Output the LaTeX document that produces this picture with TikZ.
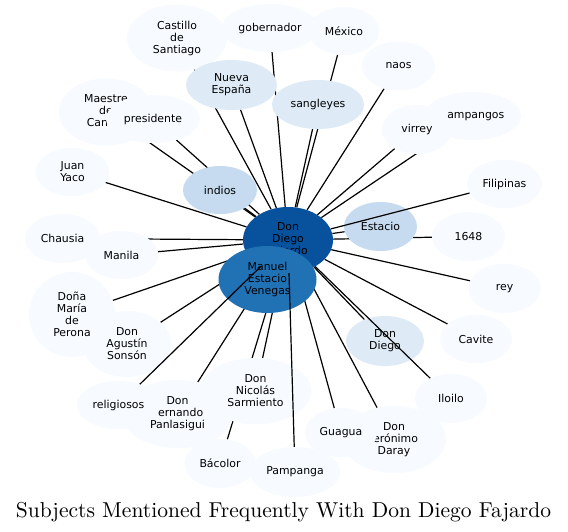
\documentclass[tikz,border=0pt]{standalone}
\usepackage{fontspec}
\usepackage{graphicx}
\newfontfamily\labfont{DejaVu Sans}
\usetikzlibrary{shapes.geometric}
\pgfdeclarelayer{bg}
\pgfsetlayers{bg,main}
\definecolor{bzero}{HTML}{F7FBFF}
\definecolor{bone}{HTML}{DEEBF7}
\definecolor{btwo}{HTML}{C6DBEF}
\definecolor{bthree}{HTML}{2171B5}
\definecolor{bfour}{HTML}{08519C}
\tikzset{
  nd/.style={ellipse, inner sep=0pt, draw=none, align=center, text=black,
    font=\labfont\fontsize{10.9}{12}\selectfont},
  lt/.style={nd, fill=bzero},
  lb/.style={nd, fill=bone},
  mb/.style={nd, fill=btwo},
  sz/.style 2 args={minimum width=#1pt, minimum height=#2pt},
  edge/.style={draw=black, line width=1.2pt}
}
\begin{document}
\begin{tikzpicture}[x=1pt,y=-1pt]
\useasboundingbox (0,0) rectangle (568,532);
% nodes, back to front
\node[lt, sz={100}{67}] (cas) at (177,38) {Castillo\\de\\Santiago};
\node[lt, sz={96}{48}] (gob) at (270,28) {gobernador};
\node[lt, sz={70}{48}] (mex) at (344,31) {México};
\node[lt, sz={73}{49}] (naos) at (398.5,66) {naos};
\node[lb, sz={91}{50}] (ne) at (231.5,85) {Nueva\\España};
\node[lb, sz={92}{49}] (sang) at (318,104.5) {sangleyes};
\node[lt, sz={94}{67}] (mae) at (106,112) {Maestre\\de\\\rlap{Can}\phantom{Campo}};
\node[lt, sz={94}{48}] (pres) at (153,119) {presidente};
\node[lt, sz={97}{48}] (pamp) at (472.5,116) {\phantom{P}ampangos};
\node[lt, sz={70}{49}] (vir) at (417,129.5) {virrey};
\node[lt, sz={73}{48}] (jy) at (72.5,172) {Juan\\Yaco};
\node[mb, sz={74}{48}] (ind) at (220,190) {indios};
\node[lt, sz={75}{48}] (fil) at (504.5,184) {Filipinas};
\node[nd, fill=bfour, sz={90}{66}] (cen) at (288,240) {Don\\Diego\\Fajardo};
\node[mb, sz={73}{49}] (est) at (380.5,226.5) {Estacio};
\node[lt, sz={73}{49}] (yr) at (468.5,236.5) {1648};
\node[lt, sz={75}{49}] (cha) at (62.5,238.5) {Chausia};
\node[lt, sz={73}{48}] (man) at (121.5,255) {Manila};
\node[nd, fill=bthree, sz={98}{67}] (mev) at (267.5,279.5) {Manuel\\Estacio\\Venegas};
\node[lt, sz={72}{49}] (rey) at (504.5,288.5) {rey};
\node[lt, sz={88}{66}] (dag) at (127,344) {Don\\Agustín\\Sonsón};
\node[lt, sz={86}{85}] (dmp) at (72,314.5) {Doña\\María\\de\\Perona};
\node[lb, sz={78}{50}] (dd) at (385,341) {Don\\Diego};
\node[lt, sz={72}{48}] (cav) at (476,339) {Cavite};
\node[lt, sz={72}{49}] (ilo) at (451,398.5) {Iloilo};
\node[lt, sz={112}{68}] (dfp) at (177.5,414) {Don\\\phantom{F}ernando\\Panlasigui};
\node[lt, sz={83}{48}] (rel) at (118.5,405) {religiosos};
\node[lt, sz={112}{66}] (dns) at (255.5,391) {Don\\Nicolás\\Sarmiento};
\node[lt, sz={104}{67}] (djd) at (394,439.5) {Don\\\phantom{J}erónimo\\Daray};
\node[lt, sz={72}{49}] (gua) at (341,432.5) {Guagua};
\node[lt, sz={71}{49}] (bac) at (220,463.5) {Bácolor};
\node[lt, sz={90}{50}] (pga) at (295,472) {Pampanga};
% background and edges below the nodes
\begin{pgfonlayer}{bg}
\fill[white] (0,0) rectangle (568,532);
\foreach \t in {cas,gob,mex,naos,ne,sang,mae,pres,pamp,vir,jy,ind,est,yr,cha,man,mev,rey,dmp,dag,dd,cav,dfp,dns,djd,gua,bac}
  \draw[edge] (cen) -- (\t);
\end{pgfonlayer}
% edges drawn over nodes
\draw[edge] (cen) -- (fil);
\draw[edge] (cen) -- (ilo);
\draw[edge] (cen) -- (rel);
\draw[edge] (cen) -- (pga);
% title
\node[anchor=base, inner sep=0pt, font=\fontsize{10}{12}\selectfont] (title) at (283.5,517.5)
  {\resizebox{535pt}{!}{Subjects Mentioned Frequently With Don Diego Fajardo}};
\end{tikzpicture}
\end{document}
